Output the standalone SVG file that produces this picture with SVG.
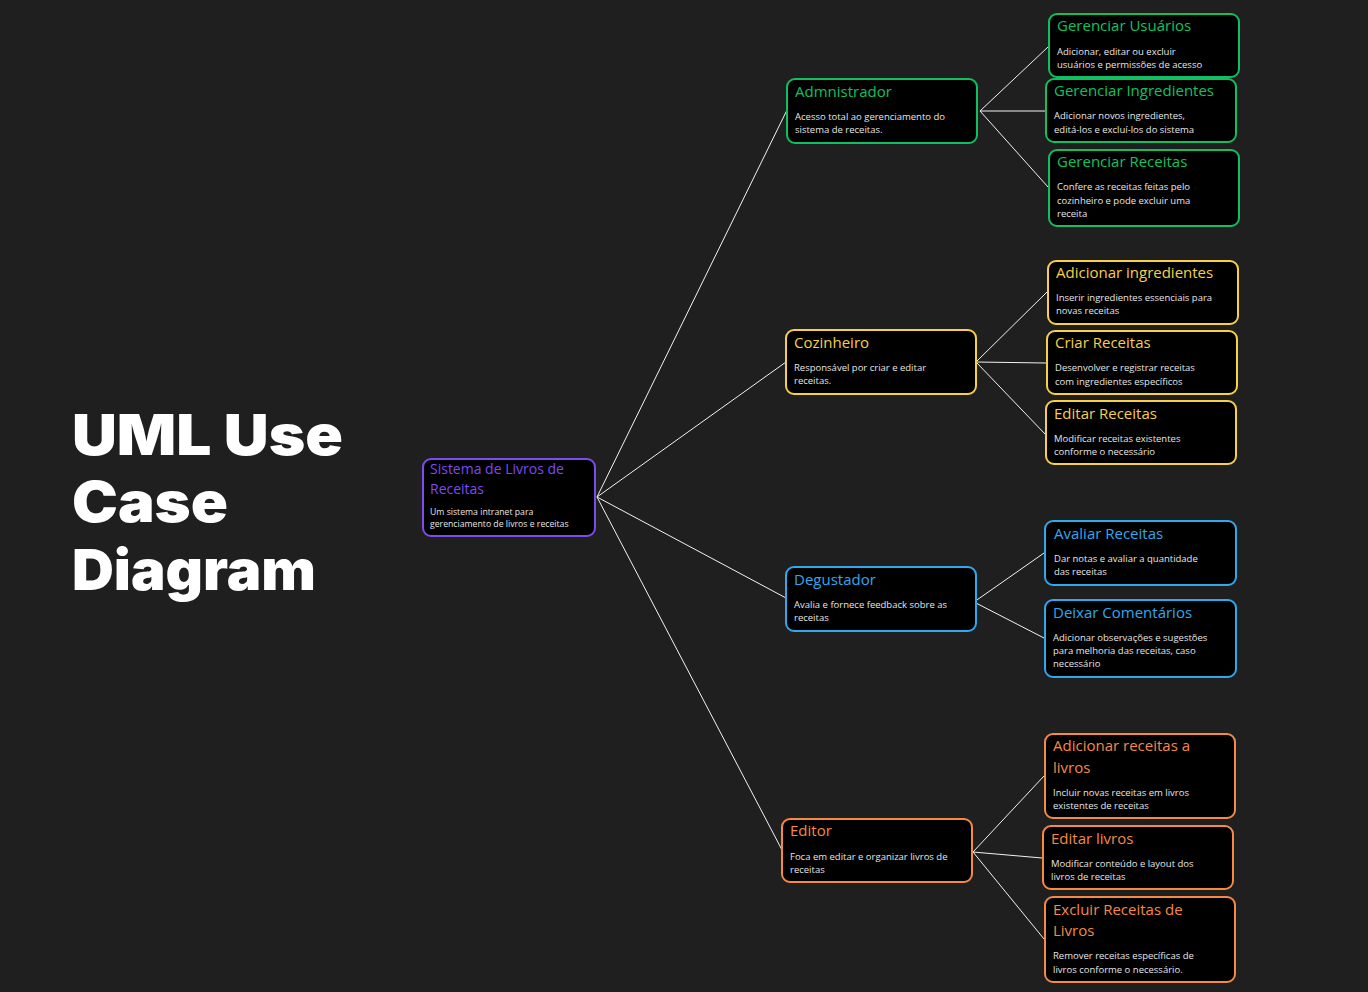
<svg xmlns="http://www.w3.org/2000/svg" width="1368" height="992" viewBox="0 0 1368 992">
<style>
.bg{fill:#1f1f1f}
.box{fill:#000;stroke-width:2}
.t{font-family:"Open Sans","Liberation Sans",sans-serif;font-size:15px}
.d{font-family:"Open Sans","Liberation Sans",sans-serif;font-size:9.5px;fill:#e6e6e6}
.g .box{stroke:#10c060}.g .t{fill:#10c060}
.y .box{stroke:#f7d048}.y .t{fill:#f7d048}
.b .box{stroke:#2fa8ee}.b .t{fill:#2fa8ee}
.o .box{stroke:#f58a45}.o .t{fill:#f58a45}
.p .box{stroke:#7d4bef}.p .t{fill:#7d4bef}
.title{font-family:Inter,"Liberation Sans",sans-serif;font-weight:900;font-size:56px;fill:#fff}
#connectors line{stroke:#f2f2f2;stroke-width:1}
</style>
<rect class="bg" x="0" y="0" width="1368" height="992"/>
<g id="title">
<text class="title" x="72" y="455" textLength="271" lengthAdjust="spacingAndGlyphs">UML Use</text>
<text class="title" x="72" y="522" textLength="156" lengthAdjust="spacingAndGlyphs">Case</text>
<text class="title" x="72" y="590" textLength="244" lengthAdjust="spacingAndGlyphs">Diagram</text>
</g>
<g id="connectors">
<line x1="597" y1="497" x2="787" y2="110"/>
<line x1="597" y1="497" x2="786" y2="362"/>
<line x1="597" y1="497" x2="786" y2="598"/>
<line x1="597" y1="497" x2="782" y2="850"/>
<line x1="980" y1="111" x2="1048" y2="47"/>
<line x1="980" y1="111" x2="1045" y2="111"/>
<line x1="980" y1="111" x2="1048" y2="187"/>
<line x1="976" y1="362" x2="1047" y2="292"/>
<line x1="976" y1="362" x2="1046" y2="363"/>
<line x1="976" y1="362" x2="1045" y2="434"/>
<line x1="974" y1="602" x2="1044" y2="553"/>
<line x1="974" y1="602" x2="1044" y2="638"/>
<line x1="973" y1="852" x2="1044" y2="776"/>
<line x1="973" y1="852" x2="1042" y2="858"/>
<line x1="973" y1="852" x2="1044" y2="939"/>
</g>
<g id="root" class="p">
<rect class="box" x="423" y="459" width="172" height="77" rx="8"/>
<text class="t" x="430" y="474" style="font-size:14px">Sistema de Livros de</text>
<text class="t" x="430" y="494" style="font-size:14px">Receitas</text>
<text class="d" x="430" y="515" style="font-size:8.7px">Um sistema intranet para</text>
<text class="d" x="430" y="527" style="font-size:8.7px">gerenciamento de livros e receitas</text>
</g>
<g id="admin" class="g">
<rect class="box" x="787" y="79" width="190" height="64" rx="8"/>
<text class="t" x="795" y="97">Admnistrador</text>
<text class="d" x="795" y="120">Acesso total ao gerenciamento do</text>
<text class="d" x="795" y="133">sistema de receitas.</text>
</g>
<g id="gerUsuarios" class="g">
<rect class="box" x="1049" y="14" width="190" height="63" rx="8"/>
<text class="t" x="1057" y="31">Gerenciar Usuários</text>
<text class="d" x="1057" y="55">Adicionar, editar ou excluir</text>
<text class="d" x="1057" y="68">usuários e permissões de acesso</text>
</g>
<g id="gerIngredientes" class="g">
<rect class="box" x="1046" y="79" width="190" height="63" rx="8"/>
<text class="t" x="1054" y="96">Gerenciar Ingredientes</text>
<text class="d" x="1054" y="119">Adicionar novos ingredientes,</text>
<text class="d" x="1054" y="133">editá-los e excluí-los do sistema</text>
</g>
<g id="gerReceitas" class="g">
<rect class="box" x="1049" y="150" width="190" height="76" rx="8"/>
<text class="t" x="1057" y="167">Gerenciar Receitas</text>
<text class="d" x="1057" y="190">Confere as receitas feitas pelo</text>
<text class="d" x="1057" y="204">cozinheiro e pode excluir uma</text>
<text class="d" x="1057" y="217">receita</text>
</g>
<g id="cozinheiro" class="y">
<rect class="box" x="786" y="330" width="190" height="64" rx="8"/>
<text class="t" x="794" y="348">Cozinheiro</text>
<text class="d" x="794" y="371">Responsável por criar e editar</text>
<text class="d" x="794" y="384">receitas.</text>
</g>
<g id="addIngredientes" class="y">
<rect class="box" x="1048" y="261" width="190" height="63" rx="8"/>
<text class="t" x="1056" y="278">Adicionar ingredientes</text>
<text class="d" x="1056" y="301">Inserir ingredientes essenciais para</text>
<text class="d" x="1056" y="314">novas receitas</text>
</g>
<g id="criarReceitas" class="y">
<rect class="box" x="1047" y="331" width="190" height="63" rx="8"/>
<text class="t" x="1055" y="348">Criar Receitas</text>
<text class="d" x="1055" y="371">Desenvolver e registrar receitas</text>
<text class="d" x="1055" y="385">com ingredientes específicos</text>
</g>
<g id="editarReceitas" class="y">
<rect class="box" x="1046" y="401" width="190" height="63" rx="8"/>
<text class="t" x="1054" y="419">Editar Receitas</text>
<text class="d" x="1054" y="442">Modificar receitas existentes</text>
<text class="d" x="1054" y="455">conforme o necessário</text>
</g>
<g id="degustador" class="b">
<rect class="box" x="786" y="567" width="190" height="64" rx="8"/>
<text class="t" x="794" y="585">Degustador</text>
<text class="d" x="794" y="608">Avalia e fornece feedback sobre as</text>
<text class="d" x="794" y="621">receitas</text>
</g>
<g id="avaliar" class="b">
<rect class="box" x="1045" y="521" width="191" height="64" rx="8"/>
<text class="t" x="1054" y="539">Avaliar Receitas</text>
<text class="d" x="1054" y="562">Dar notas e avaliar a quantidade</text>
<text class="d" x="1054" y="575">das receitas</text>
</g>
<g id="deixar" class="b">
<rect class="box" x="1045" y="600" width="191" height="77" rx="8"/>
<text class="t" x="1053" y="618">Deixar Comentários</text>
<text class="d" x="1053" y="641">Adicionar observações e sugestões</text>
<text class="d" x="1053" y="654">para melhoria das receitas, caso</text>
<text class="d" x="1053" y="667">necessário</text>
</g>
<g id="editor" class="o">
<rect class="box" x="782" y="819" width="190" height="63" rx="8"/>
<text class="t" x="790" y="836">Editor</text>
<text class="d" x="790" y="860">Foca em editar e organizar livros de</text>
<text class="d" x="790" y="873">receitas</text>
</g>
<g id="addReceitasLivros" class="o">
<rect class="box" x="1045" y="734" width="190" height="84" rx="8"/>
<text class="t" x="1053" y="751">Adicionar receitas a</text>
<text class="t" x="1053" y="773">livros</text>
<text class="d" x="1053" y="796">Incluir novas receitas em livros</text>
<text class="d" x="1053" y="809">existentes de receitas</text>
</g>
<g id="editarLivros" class="o">
<rect class="box" x="1043" y="826" width="190" height="63" rx="8"/>
<text class="t" x="1051" y="844">Editar livros</text>
<text class="d" x="1051" y="867">Modificar conteúdo e layout dos</text>
<text class="d" x="1051" y="880">livros de receitas</text>
</g>
<g id="excluir" class="o">
<rect class="box" x="1045" y="897" width="190" height="85" rx="8"/>
<text class="t" x="1053" y="915">Excluir Receitas de</text>
<text class="t" x="1053" y="936">Livros</text>
<text class="d" x="1053" y="959">Remover  receitas específicas de</text>
<text class="d" x="1053" y="973">livros conforme o necessário.</text>
</g>
</svg>
